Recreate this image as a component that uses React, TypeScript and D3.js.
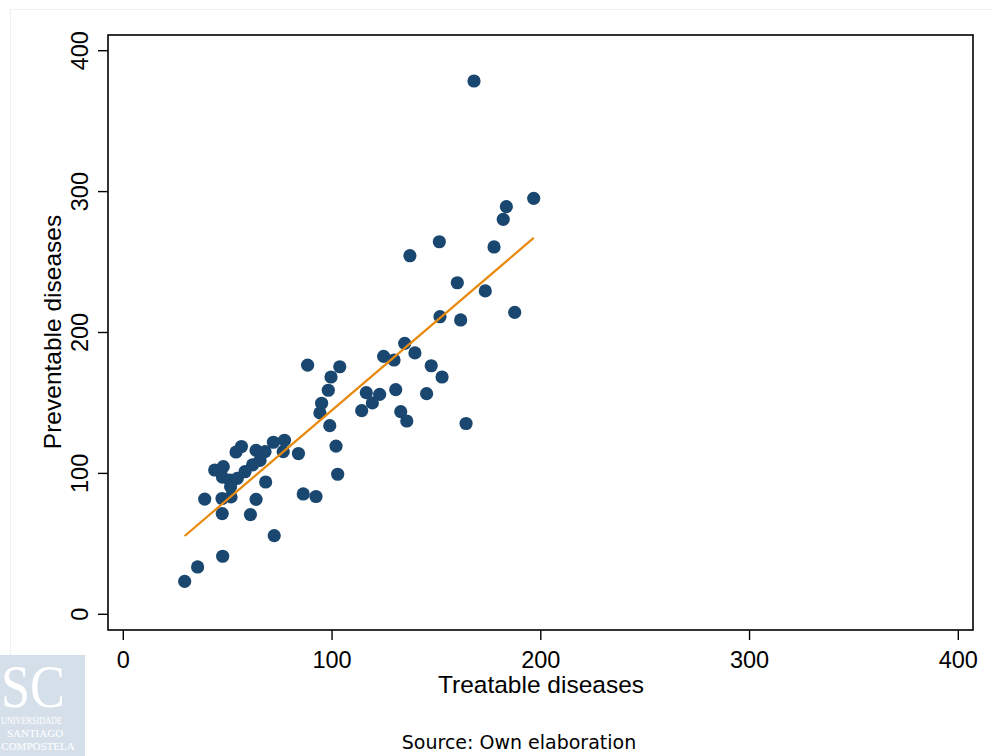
import React from "react";
import * as d3 from "d3";

const treatable = [
  29.4, 35.6, 47.6, 72.3, 39.0, 47.3, 51.6, 47.4, 60.9, 63.6,
  68.2, 86.2, 92.3, 43.8, 47.9, 47.5, 51.1, 51.4, 54.6, 58.3,
  61.9, 65.5, 54.0, 56.6, 63.6, 67.9, 71.9, 77.2, 76.6, 83.9,
  94.2, 95.0, 88.3, 99.5, 103.7, 98.2, 98.9, 101.9, 102.7, 116.4,
  122.8, 119.3, 114.2, 130.5, 132.9, 135.8, 145.3, 152.7, 147.5, 139.7,
  129.7, 124.7, 134.8, 164.2, 196.6, 183.5, 182.0, 151.4, 137.3, 177.6,
  160.0, 173.4, 151.7, 161.6, 187.5, 168.0,
];
const preventable = [
  23.4, 33.6, 41.2, 55.8, 81.8, 82.2, 83.3, 71.5, 70.8, 81.6,
  93.9, 85.4, 83.6, 102.4, 104.8, 97.4, 95.3, 90.6, 96.5, 101.2,
  106.0, 109.2, 115.2, 119.1, 116.3, 115.4, 122.1, 123.5, 115.4, 114.1,
  142.9, 149.8, 176.9, 168.4, 175.7, 159.0, 133.9, 119.4, 99.4, 157.3,
  156.1, 150.0, 144.5, 159.4, 143.8, 137.2, 156.6, 168.4, 176.4, 185.5,
  180.5, 183.1, 192.3, 135.4, 295.2, 289.3, 280.3, 264.4, 254.5, 260.7,
  235.3, 229.5, 211.2, 208.9, 214.3, 378.5,
];
const fitX = [29.4, 196.6];
const fitY = [55.6, 267.1];
const xTicks = [0, 100, 200, 300, 400];
const yTicks = [0, 100, 200, 300, 400];
const xTitle = "Treatable diseases";
const yTitle = "Preventable diseases";
const sourceNote = "Source: Own elaboration";
const logoLines = ["UNIVERSIDADE", "SANTIAGO", "COMPOSTELA"];

const W = 993;
const H = 756;
const plot = { left: 108, right: 973, top: 35, bottom: 630 };

export default function App() {
  const x = d3.scaleLinear().domain([-7.33, 407.04]).range([plot.left, plot.right]);
  const y = d3.scaleLinear().domain([-11.14, 411.14]).range([plot.bottom, plot.top]);
  const points = treatable.map((t, i) => ({ t, p: preventable[i] }));
  const fit = fitX.map((v, i) => [v, fitY[i]] as [number, number]);
  const line = d3
    .line<[number, number]>()
    .x((d) => x(d[0]))
    .y((d) => y(d[1]));
  const axisFont = "'Liberation Sans', Arial, sans-serif";
  const serif = "'Liberation Serif', serif";

  return (
    <div style={{ position: "absolute", left: 0, top: 0 }}>
      <svg width={W} height={H} style={{ display: "block", background: "#fff" }}>
        <rect x={10.5} y={9.5} width={990} height={760} fill="none" stroke="#f0f0f0" />
        {/* logo */}
        <rect x={0} y={655} width={85} height={101} fill="#d5dfea" />
        <text x={1} y={707} fontFamily={serif} fontSize={62} fill="#fff" textLength={64} lengthAdjust="spacingAndGlyphs">
          SC
        </text>
        <text x={1} y={724} fontFamily={serif} fontSize={10.5} fill="#fff" textLength={61} lengthAdjust="spacingAndGlyphs">
          {logoLines[0]}
        </text>
        <text x={35} y={737} textAnchor="middle" fontFamily={serif} fontSize={11} fill="#fff">
          {logoLines[1]}
        </text>
        <text x={38} y={750} textAnchor="middle" fontFamily={serif} fontSize={11} fill="#fff">
          {logoLines[2]}
        </text>

        {/* plot frame */}
        <rect
          x={plot.left}
          y={plot.top}
          width={plot.right - plot.left}
          height={plot.bottom - plot.top}
          fill="none"
          stroke="#000"
          strokeWidth={1.6}
        />
        {/* y ticks */}
        {yTicks.map((v) => (
          <g key={"y" + v}>
            <line x1={plot.left - 10} x2={plot.left} y1={y(v)} y2={y(v)} stroke="#000" strokeWidth={1.4} />
            <text
              transform={`translate(${plot.left - 20},${y(v)}) rotate(-90)`}
              textAnchor="middle"
              fontFamily={axisFont}
              fontSize={23.5}
              fill="#000"
            >
              {v}
            </text>
          </g>
        ))}
        {/* x ticks */}
        {xTicks.map((v) => (
          <g key={"x" + v}>
            <line x1={x(v)} x2={x(v)} y1={plot.bottom} y2={plot.bottom + 10} stroke="#000" strokeWidth={1.4} />
            <text x={x(v)} y={668} textAnchor="middle" fontFamily={axisFont} fontSize={23.5} fill="#000">
              {v}
            </text>
          </g>
        ))}
        <text x={541} y={693} textAnchor="middle" fontFamily={axisFont} fontSize={24.5} fill="#000">
          {xTitle}
        </text>
        <text
          transform={`translate(61,332) rotate(-90)`}
          textAnchor="middle"
          fontFamily={axisFont}
          fontSize={24.5}
          fill="#000"
        >
          {yTitle}
        </text>

        {/* points */}
        {points.map((d, i) => (
          <circle key={i} cx={x(d.t)} cy={y(d.p)} r={6.6} fill="#1a476f" />
        ))}
        {/* fitted line */}
        <path d={line(fit) || ""} fill="none" stroke="#e8890c" strokeWidth={2.2} />

        <text x={519} y={749} textAnchor="middle" fontFamily="'DejaVu Sans', sans-serif" fontSize={19} fill="#000">
          {sourceNote}
        </text>
      </svg>
    </div>
  );
}
